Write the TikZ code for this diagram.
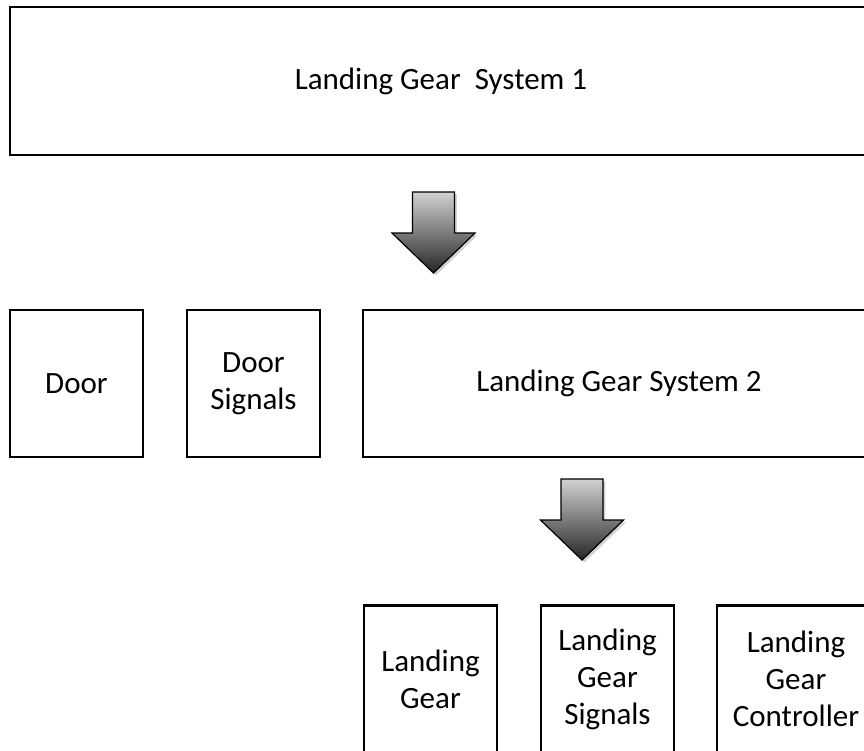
\documentclass[tikz,border=0pt]{standalone}
\usepackage{fontspec}
\setmainfont{Carlito}
\usetikzlibrary{positioning,shadows}

\begin{document}
\begin{tikzpicture}[x=0.5pt,y=-0.5pt,thick]
\tikzstyle{block}=[shape=rectangle,draw,line width=1.1pt,text=black,align=center,inner sep=0pt,
  font=\fontsize{15.5}{18.5}\selectfont,minimum width=66.5pt,minimum height=73.5pt]
\tikzstyle{bigarrow}=[draw=black,line width=0.6pt,line join=miter,top color=black!18,bottom color=black!85,
  drop shadow={opacity=0.35,shadow xshift=1.2pt,shadow yshift=-1.2pt}]
\tikzset{downarrow/.pic={
  \filldraw[bigarrow] (-21,0) -- (21,0) -- (21,41) -- (41.5,41) -- (0,81) -- (-41.5,41) -- (-21,41) -- cycle;
}}

\useasboundingbox (0,0) rectangle (864,751);
\begin{scope}
\clip (0,0) rectangle (864,751);

\node[block]	(S1) at (441,81) [minimum width=431pt,minimum height=74pt] {Landing Gear~ System 1};
\node[block]	(D)  at (76.5,383.5) {Door};
\node[block]	(DS) at (253.5,383.5) {Door\\Signals};
\node[block]	(S2) at (619,383.5) [minimum width=256pt] {Landing Gear System 2};
\node[block]	(LG)  at (430.5,679) {Landing\\Gear};
\node[block]	(LGS) at (607.5,679) {Landing\\Gear\\Signals};
\node[block]	(LGC) at (796,679) [minimum width=79pt] {Landing\\Gear\\Controller};

% refinement arrows
\pic at (433.5,192) {downarrow};
\pic at (582,479) {downarrow};
\end{scope}
\end{tikzpicture}
\end{document}
